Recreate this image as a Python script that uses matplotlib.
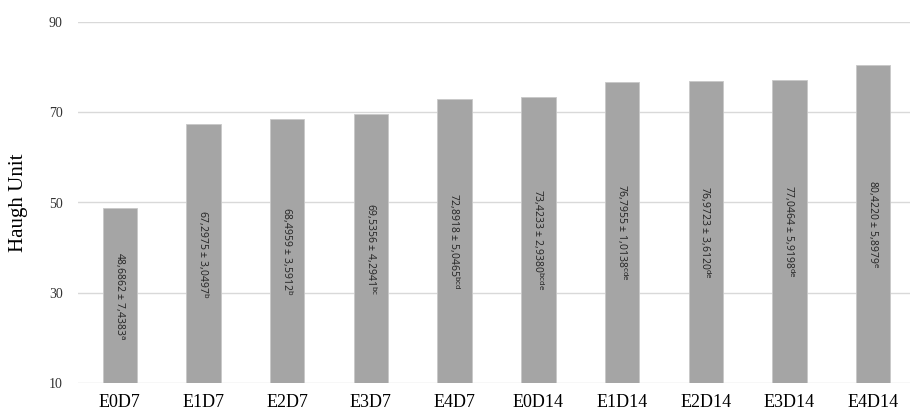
import matplotlib
matplotlib.use("Agg")
import matplotlib.pyplot as plt
import numpy as np

groups = ["E0D7", "E1D7", "E2D7", "E3D7", "E4D7",
          "E0D14", "E1D14", "E2D14", "E3D14", "E4D14"]
means = [48.6862, 67.2975, 68.4959, 69.5356, 72.8918,
         73.4233, 76.7955, 76.9723, 77.0464, 80.4220]
sds = ["7,4383", "3,0497", "3,5912", "4,2941", "5,0465",
       "2,9380", "1,0138", "3,6120", "5,9198", "5,8979"]
letters = ["a", "b", "b", "bc", "bcd", "bcde", "cde", "de", "de", "e"]

base = 10
fig = plt.figure(figsize=(9.1, 4.15), dpi=100)
ax = fig.add_axes([78 / 910, 32 / 415, 837 / 910, 361 / 415])

x = np.arange(len(groups))
# bars start at the axis floor (10), like the spreadsheet chart
ax.bar(x, np.array(means) - base, bottom=base, width=0.41,
       color="#a5a5a5", edgecolor="#c8c8c8", linewidth=0.6, zorder=2)

for xi, m, s, l in zip(x, means, sds, letters):
    txt = f"{m:.4f}".replace(".", ",") + " ± " + s + r"$^{\mathrm{" + l + "}}$"
    ax.text(xi, (base + m) / 2, txt, rotation=270, ha="center", va="center",
            fontsize=7.5, color="#222222", family="Open Sans", zorder=3)

ax.set_xlim(-0.5, len(groups) - 0.5)
ax.set_ylim(10, 90)
ax.set_yticks([10, 30, 50, 70, 90])
ax.yaxis.grid(True, color="#d9d9d9", linewidth=1.0, zorder=0)
ax.set_axisbelow(True)
for sp in ax.spines.values():
    sp.set_visible(False)
ax.tick_params(axis="both", length=0)
ax.tick_params(axis="y", pad=11, labelsize=10, labelcolor="#333333")
ax.tick_params(axis="x", pad=8, labelsize=13)
ax.set_xticks(x)
ax.set_xticklabels(groups, family="Liberation Serif")
for lab in ax.get_yticklabels():
    lab.set_family("Liberation Serif")
ax.set_ylabel("Haugh Unit", family="Liberation Serif", fontsize=15)
ax.yaxis.set_label_coords(-50 / 837, 0.5)

fig.savefig("out.png", dpi=100)
